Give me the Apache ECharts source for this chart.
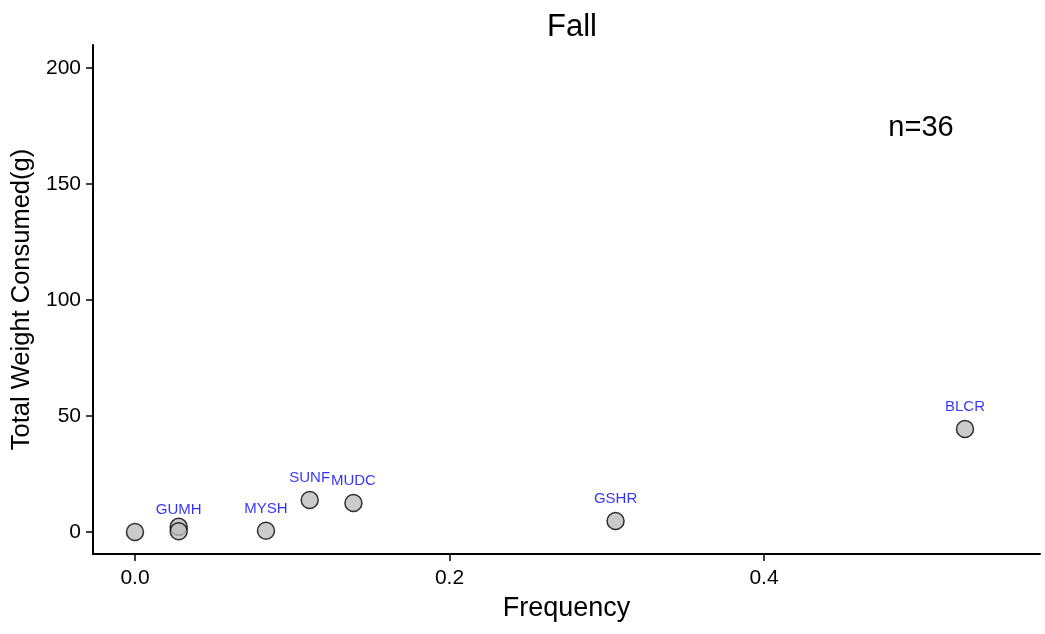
<!DOCTYPE html>
<html><head><meta charset="utf-8">
<script src="https://cdn.jsdelivr.net/npm/echarts@6/dist/echarts.min.js"></script>
<style>html,body{margin:0;padding:0;background:#fff}#c{width:1045px;height:634px}</style>
</head><body><div id="c"></div>
<script>
const prey = ['', '', 'GUMH', 'MYSH', 'SUNF', 'MUDC', 'GSHR', 'BLCR'];
const frequency = [0, 0.0278, 0.0278, 0.0833, 0.1111, 0.1389, 0.3056, 0.5278];
const weight = [0, 2.2, 0.3, 0.5, 13.8, 12.5, 4.7, 44.4];
const xTicks = [0, 0.2, 0.4];
const yTicks = [0, 50, 100, 150, 200];
const title = 'Fall';
const annotation = 'n=36';

const font = 'Liberation Sans, Arial, sans-serif';
const chart = echarts.init(document.getElementById('c'));
chart.setOption({
  animation: false,
  backgroundColor: '#fff',
  title: { text: title, left: 567, top: 7, textAlign: 'center',
    textStyle: { fontFamily: font, fontSize: 31, fontWeight: 'normal', color: '#000' } },
  graphic: [{
    type: 'text', x: 921, y: 128,
    style: { text: annotation, fontFamily: font, fontSize: 29, fill: '#000',
      align: 'center', verticalAlign: 'middle' }
  }],
  grid: { left: 93, right: 5, top: 45, bottom: 80, outerBoundsMode: 'none', containLabel: false },
  xAxis: {
    type: 'value', min: -0.0267, max: 0.5755,
    name: 'Frequency', nameLocation: 'middle', nameGap: 41,
    nameTextStyle: { fontFamily: font, fontSize: 27, color: '#000' },
    axisLine: { onZero: false, lineStyle: { color: '#000', width: 2 } },
    axisTick: { show: true, length: 7, lineStyle: { color: '#000', width: 1.5 }, customValues: xTicks },
    axisLabel: { fontFamily: font, fontSize: 21, color: '#000', margin: 14, customValues: xTicks,
      formatter: v => v.toFixed(1) },
    splitLine: { show: false }
  },
  yAxis: {
    type: 'value', min: -9.5, max: 210,
    name: 'Total Weight Consumed(g)', nameLocation: 'middle', nameGap: 58,
    nameTextStyle: { fontFamily: font, fontSize: 25.5, color: '#000' },
    axisLine: { onZero: false, lineStyle: { color: '#000', width: 2 } },
    axisTick: { show: true, length: 7, lineStyle: { color: '#000', width: 1.5 }, customValues: yTicks },
    axisLabel: { fontFamily: font, fontSize: 21, color: '#000', margin: 12, customValues: yTicks },
    splitLine: { show: false }
  },
  series: [
    {
      type: 'scatter',
      symbolSize: 17,
      itemStyle: { color: '#bebebe', borderColor: '#000', borderWidth: 1.5 },
      data: frequency.map((f, i) => ({ value: [f, weight[i]], name: prey[i] })),
      label: {
        show: true, position: 'top', distance: 5,
        formatter: p => p.name,
        fontFamily: font, fontSize: 15, color: '#0000ff'
      }
    }
  ]
});
</script></body></html>
